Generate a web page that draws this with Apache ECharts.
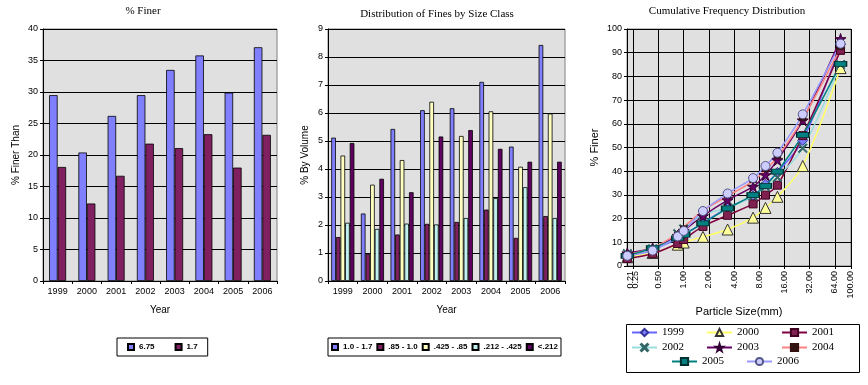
<!DOCTYPE html>
<html><head><meta charset="utf-8">
<script src="https://cdn.jsdelivr.net/npm/echarts@6.0.0/dist/echarts.min.js"></script>
<style>html,body{margin:0;padding:0;background:#fff}#c{width:868px;height:385px}</style>
</head><body><div id="c"></div>
<script>
// ---- Chart 1: % Finer ----
const years = ['1999','2000','2001','2002','2003','2004','2005','2006'];
const finer675 = [29.5, 20.4, 26.2, 29.5, 33.5, 35.8, 29.9, 37.1];
const finer17  = [18.1, 12.3, 16.7, 21.8, 21.1, 23.3, 18.0, 23.2];
// ---- Chart 2: Distribution of Fines by Size Class ----
const clsNames = ['1.0 - 1.7', '.85 - 1.0', '.425 - .85', '.212 - .425', '<.212'];
const cls1 = [5.12, 2.41, 5.43, 6.10, 6.17, 7.11, 4.80, 8.43];
const cls2 = [1.57, 0.97, 1.66, 2.04, 2.11, 2.55, 1.54, 2.32];
const cls3 = [4.48, 3.44, 4.32, 6.40, 5.18, 6.06, 4.08, 5.98];
const cls4 = [2.08, 1.86, 2.05, 2.02, 2.25, 2.96, 3.35, 2.25];
const cls5 = [4.93, 3.65, 3.17, 5.16, 5.39, 4.72, 4.26, 4.26];
// ---- Chart 3: Cumulative Frequency Distribution ----
const sizes = [0.212, 0.425, 0.85, 1.0, 1.7, 3.35, 6.75, 9.5, 13.2, 26.5, 75];
const cum1999 = [4.9, 7.0, 11.5, 13.1, 18.2, 24.5, 29.5, 34.5, 39.5, 53.0, 93.5];
const cum2000 = [3.7, 5.5, 9.0, 9.9, 12.3, 15.4, 20.4, 24.5, 29.2, 42.2, 83.5];
const cum2001 = [3.2, 5.2, 9.5, 11.2, 16.7, 21.4, 26.2, 29.9, 34.1, 55.0, 91.0];
const cum2002 = [5.2, 7.2, 13.6, 15.6, 21.7, 24.5, 29.5, 33.4, 37.4, 49.7, 85.0];
const cum2003 = [5.4, 7.6, 12.8, 14.9, 21.1, 27.8, 33.5, 38.4, 44.7, 61.5, 95.8];
const cum2004 = [4.7, 7.7, 13.7, 16.3, 23.4, 29.5, 35.8, 40.5, 46.0, 62.0, 92.0];
const cum2005 = [4.3, 7.6, 11.7, 13.2, 18.0, 24.3, 29.9, 33.8, 39.8, 55.3, 85.3];
const cum2006 = [4.3, 6.5, 12.5, 14.8, 23.2, 30.6, 37.1, 42.2, 47.8, 64.0, 93.8];
const xMin = 0.21, xMax = 100;
const xFirstNice = 0.25;
const xTickFmt = v => Number(v).toFixed(2);
// the axis minimum label sits on top of the first nice tick; print both at that tick
const xLabelFmt = v => Math.abs(v - xFirstNice) < 1e-9 ? xTickFmt(xMin) + '\n' + xTickFmt(v) : xTickFmt(v);

const pairs = arr => sizes.map((s, i) => [s, arr[i]]);
const SANS = 'Liberation Sans, Arial, sans-serif';
const SERIF = 'Liberation Serif, Times New Roman, serif';
const gridBase = {show: true, backgroundColor: '#e0e0e0', borderColor: '#808080', borderWidth: 1};
const lbl = {color: '#000', fontFamily: SANS, fontSize: 9};
const axLine = {show: true, lineStyle: {color: '#000', width: 1}};
const axTick = {show: true, length: 3, lineStyle: {color: '#000'}};
const split = {show: true, lineStyle: {color: '#000', width: 1}};
const nameStyle = {color: '#000', fontFamily: SANS, fontSize: 10};
const titleStyle = {fontFamily: SERIF, fontSize: 11, fontWeight: 'normal', color: '#000'};

const STAR = 'path://M50,0L61,35L98,35L68,57L79,91L50,70L21,91L32,57L2,35L39,35Z';
const XMARK = 'path://M1,0L5,4L9,0L10,1L6,5L10,9L9,10L5,6L1,10L0,9L4,5L0,1Z';

function barSeries(name, data, color, xi, yi) {
  return {name, type: 'bar', data, xAxisIndex: xi, yAxisIndex: yi,
    itemStyle: {color, borderColor: '#000', borderWidth: 0.8}};
}
const barOpts1 = {barGap: '0%', barCategoryGap: '42%'};
const barOpts2 = {barGap: '0%', barCategoryGap: '22%'};

function lineSeries(name, arr, lineColor, symbol, size, fill, border) {
  return {name, type: 'line', xAxisIndex: 2, yAxisIndex: 2, data: pairs(arr),
    smooth: 0.3, symbol, symbolSize: size, showAllSymbol: true,
    lineStyle: {color: lineColor, width: 1.5},
    itemStyle: {color: fill, borderColor: border, borderWidth: 1}};
}

const chart = echarts.init(document.getElementById('c'));
const legendText = {fontFamily: SANS, fontSize: 8, fontWeight: 'bold', color: '#000'};
const legend3Text = {fontFamily: SERIF, fontSize: 11, color: '#000'};
chart.setOption({
  animation: false,
  title: [
    {text: '% Finer', left: 138, top: 1, textAlign: 'center', textStyle: titleStyle},
    {text: 'Distribution of Fines by Size Class', left: 432, top: 4, textAlign: 'center', textStyle: titleStyle},
    {text: 'Cumulative Frequency Distribution', left: 722, top: 1, textAlign: 'center', textStyle: titleStyle}
  ],
  grid: [
    Object.assign({left: 43, top: 29, width: 234, height: 252}, gridBase),
    Object.assign({left: 328, top: 29, width: 237, height: 252}, gridBase),
    Object.assign({left: 627, top: 29, width: 224, height: 237}, gridBase)
  ],
  xAxis: [
    {type: 'category', gridIndex: 0, data: years, axisLine: axLine, axisTick: axTick,
     axisLabel: Object.assign({margin: 6}, lbl), name: 'Year', nameLocation: 'middle', nameGap: 24, nameTextStyle: nameStyle},
    {type: 'category', gridIndex: 1, data: years, axisLine: axLine, axisTick: axTick,
     axisLabel: Object.assign({margin: 6}, lbl), name: 'Year', nameLocation: 'middle', nameGap: 24, nameTextStyle: nameStyle},
    {type: 'log', logBase: 2, gridIndex: 2, min: xMin, max: xMax, axisLine: axLine, axisTick: axTick,
     splitLine: split, minorTick: {show: false}, minorSplitLine: {show: false},
     axisLabel: Object.assign({rotate: 90, margin: 5, lineHeight: 5, formatter: xLabelFmt, showMinLabel: false, showMaxLabel: true, hideOverlap: false}, lbl),
     name: 'Particle Size(mm)', nameLocation: 'middle', nameGap: 40, nameTextStyle: {color: '#000', fontFamily: SANS, fontSize: 11}}
  ],
  yAxis: [
    {type: 'value', gridIndex: 0, min: 0, max: 40, interval: 5, axisLine: axLine, axisTick: axTick, splitLine: split,
     axisLabel: Object.assign({margin: 5}, lbl), name: '% Finer Than', nameLocation: 'middle', nameGap: 22, nameTextStyle: nameStyle},
    {type: 'value', gridIndex: 1, min: 0, max: 9, interval: 1, axisLine: axLine, axisTick: axTick, splitLine: split,
     axisLabel: Object.assign({margin: 5}, lbl), name: '% By Volume', nameLocation: 'middle', nameGap: 18, nameTextStyle: nameStyle},
    {type: 'value', gridIndex: 2, min: 0, max: 100, interval: 10, axisLine: axLine, axisTick: axTick, splitLine: split,
     axisLabel: Object.assign({margin: 5}, lbl), name: '% Finer', nameLocation: 'middle', nameGap: 27, nameTextStyle: {color: '#000', fontFamily: SANS, fontSize: 11}}
  ],
  legend: [
    {data: ['6.75', '1.7'], left: 117, top: 338, icon: 'rect', itemWidth: 6, itemHeight: 6, itemGap: 20,
     padding: [5, 10], borderColor: '#000', borderWidth: 1, textStyle: legendText},
    {data: clsNames, left: 328, top: 338, icon: 'rect', itemWidth: 6, itemHeight: 6, itemGap: 4,
     padding: [5, 3], borderColor: '#000', borderWidth: 1, textStyle: legendText},
    {data: ['1999', '2000', '2001'], left: 631, top: 327, padding: 0, itemWidth: 25, itemHeight: 9, itemGap: 22, textStyle: legend3Text},
    {data: ['2002', '2003', '2004'], left: 631, top: 342, padding: 0, itemWidth: 25, itemHeight: 9, itemGap: 22, textStyle: legend3Text},
    {data: ['2005', '2006'], left: 671, top: 356, padding: 0, itemWidth: 25, itemHeight: 9, itemGap: 22, textStyle: legend3Text}
  ],
  graphic: [
    {type: 'rect', shape: {x: 626.5, y: 324.5, width: 233, height: 48}, style: {fill: 'none', stroke: '#000', lineWidth: 1}, silent: true}
  ],
  series: [
    Object.assign(barSeries('6.75', finer675, '#8080ff', 0, 0), barOpts1),
    Object.assign(barSeries('1.7', finer17, '#802060', 0, 0), barOpts1),
    Object.assign(barSeries(clsNames[0], cls1, '#8080ff', 1, 1), barOpts2),
    Object.assign(barSeries(clsNames[1], cls2, '#802060', 1, 1), barOpts2),
    Object.assign(barSeries(clsNames[2], cls3, '#ffffc0', 1, 1), barOpts2),
    Object.assign(barSeries(clsNames[3], cls4, '#c0f0f0', 1, 1), barOpts2),
    Object.assign(barSeries(clsNames[4], cls5, '#600060', 1, 1), barOpts2),
    lineSeries('1999', cum1999, '#6666ff', 'diamond', 10, '#8080ff', '#333399'),
    lineSeries('2000', cum2000, '#ffff66', 'triangle', 11, '#ffff99', '#333333'),
    lineSeries('2001', cum2001, '#800040', 'rect', 8, '#802050', '#400020'),
    lineSeries('2002', cum2002, '#99dddd', XMARK, 9, '#336666', '#336666'),
    lineSeries('2003', cum2003, '#660066', STAR, 11, '#660066', '#330033'),
    lineSeries('2004', cum2004, '#ff8080', 'rect', [6, 3], '#331111', '#331111'),
    lineSeries('2005', cum2005, '#008080', 'rect', [12, 5], '#008080', '#003030'),
    lineSeries('2006', cum2006, '#9999ff', 'circle', 9, '#ccccff', '#555588')
  ]
});
</script>
</body></html>
